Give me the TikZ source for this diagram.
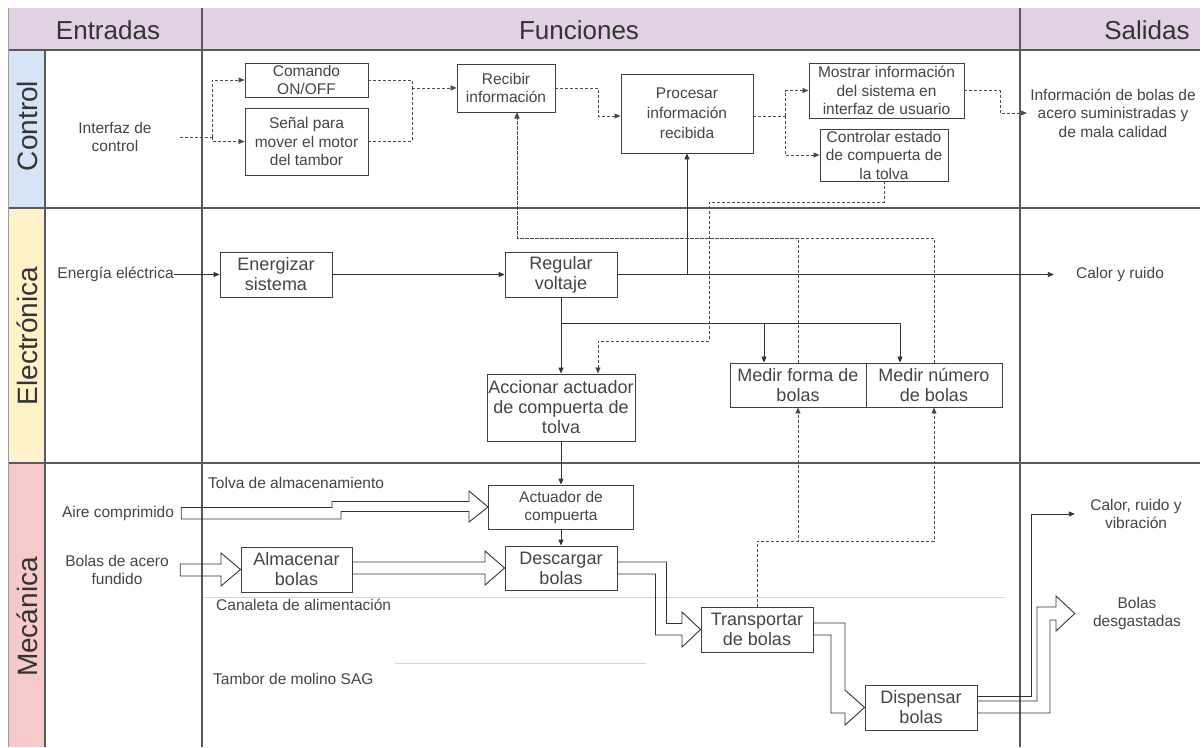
\documentclass[tikz,border=0pt]{standalone}
\usepackage{fontspec}
\setmainfont{Liberation Sans}
\usetikzlibrary{arrows.meta,calc}
\definecolor{hdr}{HTML}{E2D1E5}
\definecolor{cblue}{HTML}{D5E4F7}
\definecolor{cyel}{HTML}{FFF1C8}
\definecolor{cred}{HTML}{F6CACA}
\definecolor{txt}{HTML}{454545}
\definecolor{lanec}{HTML}{5A5A5A}
\definecolor{faintc}{HTML}{D6D6D6}
\tikzset{
  fbox/.style={draw=black!75, line width=0.9pt, fill=white, align=center, inner sep=0pt, text=txt, font=\fontsize{18}{20}\selectfont},
  cbox/.style={fbox, font=\fontsize{15.5}{18.5}\selectfont},
  lbl/.style={align=center, text=txt, font=\fontsize{15.5}{18.5}\selectfont, inner sep=0pt},
  hdrtxt/.style={text=black!80, font=\fontsize{26}{28}\selectfont},
  lanetxt/.style={text=black!80, font=\fontsize{28}{30}\selectfont, rotate=90},
  sol/.style={draw=black!80, line width=0.9pt},
  arr/.style={-{Triangle[length=6pt,width=5pt]}},
  dsh/.style={draw=black!70, line width=0.8pt, dash pattern=on 3pt off 2pt},
  hol/.style={draw=black!80, line width=0.9pt, line join=miter},
  laneline/.style={draw=lanec, line width=1.2pt},
  faintline/.style={draw=faintc, line width=1pt},
}
\begin{document}
\begin{tikzpicture}[x=1pt,y=-1pt]
\useasboundingbox (0,0) rectangle (1204,747);
\fill[white] (0,0) rectangle (1204,747);
% header band and lane label column
\fill[hdr] (8,8) rectangle (1200,50);
\fill[cblue] (8,50) rectangle (45,208);
\fill[cyel] (8,208) rectangle (45,463);
\fill[cred] (8,463) rectangle (45,747);
% grid lines
\draw[laneline] (8,50) -- (1200,50);
\draw[laneline] (8,208) -- (1200,208);
\draw[laneline] (8,463) -- (1200,463);
\draw[laneline] (45,50) -- (45,747);
\draw[laneline] (202,8) -- (202,747);
\draw[laneline] (1020,8) -- (1020,747);
\draw[draw=lanec!60, line width=0.8pt] (8,8) -- (8,747);
% header texts
\node[hdrtxt] (hEnt) at (108,30) {Entradas};
\node[hdrtxt] (hFun) at (579,30) {Funciones};
\node[hdrtxt] (hSal) at (1147,30) {Salidas};
% lane labels
\node[lanetxt] (lCon) at (27,126) {Control};
\node[lanetxt] (lEle) at (27,336) {Electrónica};
\node[lanetxt] (lMec) at (27,617) {Mecánica};

% faint container lines
\draw[faintline] (203,597) -- (1005,597);
\draw[faintline] (395,663) -- (646,663);

% ---------------- Control lane
\node[lbl, minimum width=130pt] (intf) at (115,137) {Interfaz de\\control};
\node[cbox, minimum width=123pt, minimum height=34pt] (com) at (306.5,80) {Comando\\ON/OFF};
\node[cbox, minimum width=123pt, minimum height=67pt] (sen) at (306.5,141.5) {Señal para\\mover el motor\\del tambor};
\node[cbox, minimum width=98pt, minimum height=48pt] (rec) at (506,88) {Recibir\\información};
\node[cbox, minimum width=132pt, minimum height=79pt, font=\fontsize{15.5}{20}\selectfont] (pro) at (687,113.5) {Procesar\\información\\recibida};
\node[cbox, minimum width=155pt, minimum height=55pt] (mos) at (886.5,90.5) {Mostrar información\\del sistema en\\interfaz de usuario};
\node[cbox, minimum width=128pt, minimum height=52pt] (ctl) at (884,155) {Controlar estado\\de compuerta de\\la tolva};
\node[lbl, minimum width=172pt] (info) at (1113,113) {Información de bolas de\\acero suministradas y\\de mala calidad};

\coordinate (cj1) at (212,137);
\draw[dsh] (intf.east) -- (cj1);
\draw[dsh,arr] (cj1) |- (com.west);
\draw[dsh,arr] (cj1) |- (sen.west);
\coordinate (cj2) at (412,88);
\draw[dsh] (com.east) -| (cj2);
\draw[dsh] (sen.east) -| (cj2);
\draw[dsh,arr] (cj2) -- (rec.west);
\draw[dsh,arr] (rec.east) -- ++(43,0) |- ($(pro.west)+(0,2.5)$);
\coordinate (cj3) at (785,116);
\draw[dsh] ($(pro.east)+(0,2.5)$) -- (cj3);
\draw[dsh,arr] (cj3) |- (mos.west);
\draw[dsh,arr] (cj3) |- (ctl.west);
\draw[dsh,arr] (mos.east) -- ++(36,0) |- (info.west);

% ---------------- Electronics lane
\node[lbl, anchor=east] (eel) at (174,274.5) {Energía eléctrica};
\node[fbox, minimum width=112pt, minimum height=45pt] (ene) at (276,274.5) {Energizar\\sistema};
\node[fbox, minimum width=112pt, minimum height=45pt] (reg) at (561,274.5) {Regular\\voltaje};
\node[fbox, minimum width=148pt, minimum height=67pt] (acc) at (561,407.5) {Accionar actuador\\de compuerta de\\tolva};
\node[fbox, minimum width=136pt, minimum height=44pt] (mfo) at (798,385) {Medir forma de\\bolas};
\node[fbox, minimum width=136pt, minimum height=44pt] (mnu) at (934,385) {Medir número\\de bolas};
\node[lbl, minimum width=132pt] (cyr) at (1120,274.5) {Calor y ruido};

\draw[sol,arr] (eel.east) -- (ene.west);
\draw[sol,arr] (ene.east) -- (reg.west);
\draw[sol,arr] (reg.east) -- (cyr.west);
\draw[sol,arr] (pro.south |- reg.east) -- (pro.south);
\draw[sol,arr] (reg.south) -- (acc.north);
\coordinate (vj) at (561,323);
\draw[sol,arr] (reg.south) -- (vj) -| ($(mfo.north)+(-34,0)$);
\draw[sol,arr] (reg.south) -- (vj) -| ($(mnu.north)+(-34,0)$);
% dashed from control of hopper gate to actuator
\draw[dsh,arr] (ctl.south) -- ++(0,21) -| (709,341) -| ($(acc.north)+(37,0)$);
% dashed sensor feedback to receive information
\coordinate (rj) at (517,238);
\draw[dsh,arr] (mfo.north) |- (rj) -- (rj |- rec.south);
\draw[dsh,arr] (mnu.north) |- (rj) -- (rj |- rec.south);

% ---------------- Mechanics lane
\node[lbl, anchor=west] (tolva) at (208,483) {Tolva de almacenamiento};
\node[lbl, anchor=west] (canal) at (216,605) {Canaleta de alimentación};
\node[lbl, anchor=west] (tambor) at (213,679) {Tambor de molino SAG};
\node[lbl, minimum width=126pt] (aire) at (118,513) {Aire comprimido};
\node[lbl, minimum width=126pt] (bac) at (117,570) {Bolas de acero\\fundido};
\node[fbox, minimum width=145pt, minimum height=44pt, font=\fontsize{15.5}{18}\selectfont] (act) at (561,507) {Actuador de\\compuerta};
\node[fbox, minimum width=111pt, minimum height=45pt] (alm) at (296.5,569.5) {Almacenar\\bolas};
\node[fbox, minimum width=112pt, minimum height=44pt] (des) at (561,568) {Descargar\\bolas};
\node[fbox, minimum width=112pt, minimum height=45pt] (tra) at (757,629.5) {Transportar\\de bolas};
\node[fbox, minimum width=112pt, minimum height=45pt] (dis) at (921,707.5) {Dispensar\\bolas};
\node[lbl, minimum width=122pt] (crv) at (1136,514) {Calor, ruido y\\vibración};
\node[lbl, minimum width=124pt] (bd) at (1137,613.5) {Bolas\\desgastadas};

\draw[sol,arr] (acc.south) -- (act.north);
\draw[sol,arr] (act.south) -- (des.north);
% dashed from transport to sensors
\coordinate (tj) at (757,541);
\draw[dsh,arr] (tra.north) -- (tra.north |- tj) -| (mfo.south);
\draw[dsh,arr] (tra.north) -- (tra.north |- tj) -| (mnu.south);
% outputs of dispensing
\draw[sol,arr] ($(dis.east)+(0,-11)$) -- ++(54,0) |- (crv.west);

% hollow (flow) arrows
\draw[hol] (aire.east |- 0,507.5) -- (332,507.5) -- (332,501.5) -- (469,501.5) -- (469,491) -- (act.west) -- (469,522) -- (469,511.5) -- (341,511.5) -- (341,519) -- (aire.east |- 0,519) -- cycle;
\draw[hol] (bac.east |- 0,564) -- (221,564) -- (221,553) -- (alm.west) -- (221,586) -- (221,576) -- (bac.east |- 0,576) -- cycle;
\draw[hol] (alm.east |- 0,562) -- (485,562) -- (485,551) -- (des.west) -- (485,585) -- (485,574) -- (alm.east |- 0,574) -- cycle;
\draw[hol] (des.east |- 0,562) -- (666.5,562) -- (666.5,623.5) -- (682,623.5) -- (682,612) -- (tra.west) -- (682,647) -- (682,635) -- (655.5,635) -- (655.5,574) -- (des.east |- 0,574) -- cycle;
\draw[hol] (tra.east |- 0,623) -- (845,623) -- (845,690) -- (dis.west) -- (845,725) -- (845,713) -- (831,713) -- (831,635) -- (tra.east |- 0,635) -- cycle;
\draw[hol] (dis.east |- 0,701) -- (1037,701) -- (1037,607) -- (1056,607) -- (1056,596) -- (bd.west) -- (1056,631) -- (1056,620) -- (1050,620) -- (1050,713) -- (dis.east |- 0,713) -- cycle;
\end{tikzpicture}
\end{document}
